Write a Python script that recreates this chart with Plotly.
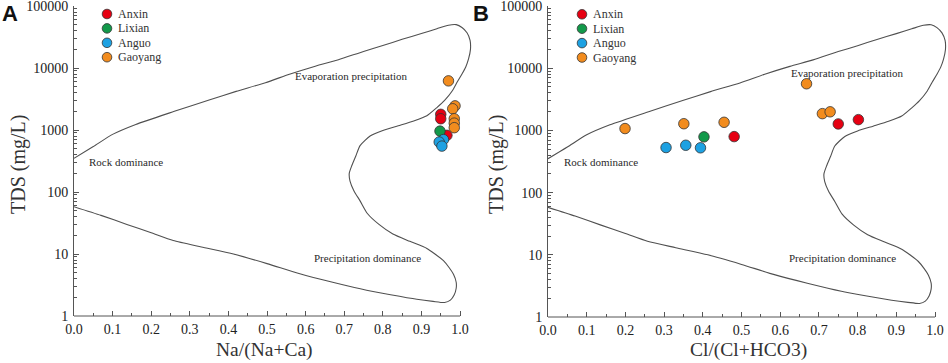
import math
import plotly.graph_objects as go

# ---------------- data ----------------
sites = ["Anxin", "Lixian", "Anguo", "Gaoyang"]
site_colors = ["#E60012", "#12994A", "#1DA1E2", "#F28C1E"]

# Panel A : Na/(Na+Ca) vs TDS
anxin_na = [0.950, 0.950, 0.966]
anxin_tds_a = [1790, 1520, 820]
lixian_na = [0.948]
lixian_tds_a = [960]
anguo_na = [0.957, 0.946, 0.953]
anguo_tds_a = [700, 640, 550]
gaoyang_na = [0.970, 0.987, 0.981, 0.985, 0.985, 0.985]
gaoyang_tds_a = [6200, 2450, 2200, 1520, 1290, 1090]

# Panel B : Cl/(Cl+HCO3) vs TDS
anxin_cl = [0.481, 0.750, 0.802]
anxin_tds_b = [795, 1270, 1490]
lixian_cl = [0.403]
lixian_tds_b = [787]
anguo_cl = [0.305, 0.356, 0.394]
anguo_tds_b = [530, 577, 525]
gaoyang_cl = [0.199, 0.351, 0.455, 0.668, 0.709, 0.729]
gaoyang_tds_b = [1070, 1280, 1350, 5620, 1860, 1990]

# Gibbs boundary envelope (ratio, TDS mg/L)
boundary_ratio = [0.0, 0.07, 0.137, 0.2, 0.257, 0.33, 0.413, 0.5, 0.585, 0.67, 0.758, 0.82,
                  0.888, 0.93, 0.96, 0.975, 0.985, 0.99, 0.99, 0.983, 0.972, 0.957, 0.935,
                  0.914, 0.87, 0.826, 0.79, 0.76, 0.741, 0.725, 0.715, 0.713, 0.72, 0.73,
                  0.741, 0.767, 0.8, 0.84, 0.88, 0.914, 0.94, 0.96, 0.98, 0.993, 1.005,
                  1.015, 1.022, 1.027, 1.026, 1.018, 1.005, 0.99, 0.97, 0.94, 0.9, 0.85,
                  0.8, 0.75, 0.685, 0.625, 0.56, 0.496, 0.42, 0.35, 0.26, 0.16, 0.1, 0.05, 0.0]
boundary_tds = [58, 42, 30, 22, 16.5, 13, 10, 7, 4.8, 3.5, 2.6, 2.2,
                1.86, 1.72, 1.65, 1.8, 2.2, 2.8, 3.5, 4.7, 6.0, 7.8, 10,
                12.3, 16, 21, 30, 45, 72, 105, 150, 200, 270, 380,
                560, 800, 980, 1170, 1400, 1700, 2300, 3000, 4300, 6000, 8000,
                10500, 14000, 20000, 28000, 37000, 45000, 50000, 49000, 43000, 36000, 29000,
                23000, 18500, 13600, 10700, 8000, 5800, 4200, 3050, 2000, 1230, 850, 540, 350]

x_tickvals = [0.0, 0.1, 0.2, 0.3, 0.4, 0.5, 0.6, 0.7, 0.8, 0.9, 1.0]
x_ticktext = ["0.0", "0.1", "0.2", "0.3", "0.4", "0.5", "0.6", "0.7", "0.8", "0.9", "1.0"]
x_minorvals = [0.05, 0.15, 0.25, 0.35, 0.45, 0.55, 0.65, 0.75, 0.85, 0.95]
y_tickvals = [1, 10, 100, 1000, 10000, 100000]
y_ticktext = ["1", "10", "100", "1000", "10000", "100000"]

# ---------------- figure ----------------
W, H = 948, 363
SERIF = "Liberation Serif, Times New Roman, serif"
AXC = "#555555"
MARK = 10.5
fig = go.Figure()

for xa, ya in [("x", "y"), ("x2", "y2")]:
    fig.add_trace(go.Scatter(x=boundary_ratio, y=boundary_tds, mode="lines", xaxis=xa, yaxis=ya,
                             line=dict(color="#505050", width=1.1, shape="spline", smoothing=0.6),
                             showlegend=False, hoverinfo="skip"))

panel_a = [(anxin_na, anxin_tds_a), (lixian_na, lixian_tds_a), (anguo_na, anguo_tds_a), (gaoyang_na, gaoyang_tds_a)]
panel_b = [(anxin_cl, anxin_tds_b), (lixian_cl, lixian_tds_b), (anguo_cl, anguo_tds_b), (gaoyang_cl, gaoyang_tds_b)]

for xa, ya, panel in [("x", "y", panel_a), ("x2", "y2", panel_b)]:
    for name, col, (xs, ys) in zip(sites, site_colors, panel):
        fig.add_trace(go.Scatter(x=xs, y=ys, mode="markers", name=name, xaxis=xa, yaxis=ya,
                                 showlegend=False,
                                 marker=dict(size=MARK, color=col, line=dict(color="#333333", width=0.8))))


def xaxis(domain, anchor):
    return dict(domain=domain, anchor=anchor, range=[0, 1.032], tickmode="array",
                tickvals=x_tickvals, ticktext=x_ticktext,
                ticks="inside", ticklen=5, tickcolor=AXC, tickwidth=1,
                showline=False, showgrid=False, zeroline=False,
                minor=dict(tickmode="array", tickvals=x_minorvals, ticks="inside", ticklen=3,
                           tickcolor=AXC, tickwidth=1, showgrid=False),
                tickfont=dict(family=SERIF, size=14, color="#222222"), ticklabelstandoff=3,
                ticklabeloverflow="allow", automargin=False)


def yaxis(domain, anchor):
    return dict(domain=domain, anchor=anchor, type="log", range=[0, 5], tickmode="array",
                tickvals=y_tickvals, ticktext=y_ticktext,
                ticks="inside", ticklen=5, tickcolor=AXC, tickwidth=1,
                showline=True, linecolor=AXC, linewidth=1, showgrid=False, zeroline=False,
                minor=dict(ticks="inside", ticklen=3, dtick="D1", tickcolor=AXC, tickwidth=1, showgrid=False),
                tickfont=dict(family=SERIF, size=14, color="#222222"), ticklabelstandoff=2,
                ticklabeloverflow="allow", automargin=False)


xa_dom = [74 / W, 472.4 / W]
xb_dom = [548 / W, 947.4 / W]
ya_dom = [(H - 316) / H, (H - 6) / H]
yb_dom = [(H - 317) / H, (H - 6) / H]

fig.update_layout(
    width=W, height=H, margin=dict(l=0, r=0, t=0, b=0),
    paper_bgcolor="white", plot_bgcolor="white", showlegend=False,
    xaxis=xaxis(xa_dom, "y"),
    yaxis=yaxis(ya_dom, "x"),
    xaxis2=xaxis(xb_dom, "y2"),
    yaxis2=yaxis(yb_dom, "x2"),
)

# x-axis baselines stop at 1.0 (envelope extends slightly beyond)
for xr, yr in [("x", "y domain"), ("x2", "y2 domain")]:
    fig.add_shape(type="line", xref=xr, yref=yr, x0=0, x1=1, y0=0, y1=0,
                  line=dict(color=AXC, width=1))

# axis titles
title_font = dict(family=SERIF, size=19.5, color="#333333")
for xc, txt in [(264, "Na/(Na+Ca)"), (748, "Cl/(Cl+HCO3)")]:
    fig.add_annotation(xref="paper", yref="paper", x=xc / W, y=(H - 350) / H, text=txt, showarrow=False,
                       xanchor="center", yanchor="middle", font=title_font)
for xc in [18, 496]:
    fig.add_annotation(xref="paper", yref="paper", x=xc / W, y=(H - 165) / H, text="TDS (mg/L)",
                       showarrow=False, textangle=-90, xanchor="center", yanchor="middle",
                       font=dict(family=SERIF, size=20, color="#333333"))

# site legends (one per panel)
legend_origin = [(107, 14), (582, 14.3)]   # marker centre of first entry, px
legend_step = 14.4
r = 4.8
for lx, ly in legend_origin:
    for i, (name, col) in enumerate(zip(sites, site_colors)):
        cy = ly + i * legend_step
        fig.add_shape(type="circle", xref="paper", yref="paper",
                      x0=(lx - r) / W, x1=(lx + r) / W, y0=(H - cy - r) / H, y1=(H - cy + r) / H,
                      fillcolor=col, line=dict(color="#333333", width=0.8))
        fig.add_annotation(xref="paper", yref="paper", x=(lx + 9) / W, y=(H - cy) / H, text=name,
                           showarrow=False, xanchor="left", yanchor="middle",
                           font=dict(family=SERIF, size=12, color="#333333"))

ann_font = dict(family=SERIF, size=11, color="#2a2a2a")
region_labels = [
    ("x", "y", 0.72, 7400, "Evaporation precipitation"),
    ("x", "y", 0.135, 310, "Rock dominance"),
    ("x", "y", 0.759, 8.7, "Precipitation dominance"),
    ("x2", "y2", 0.773, 8300, "Evaporation precipitation"),
    ("x2", "y2", 0.138, 316, "Rock dominance"),
    ("x2", "y2", 0.76, 9.0, "Precipitation dominance"),
]
for xr, yr, xv, yv, txt in region_labels:
    fig.add_annotation(xref=xr, yref=yr, x=xv, y=math.log10(yv), text=txt, showarrow=False,
                       font=ann_font, xanchor="center", yanchor="middle")

fig.add_annotation(xref="paper", yref="paper", x=10 / W, y=(H - 14) / H, text="<b>A</b>", showarrow=False,
                   font=dict(family="Liberation Sans, Arial, sans-serif", size=22, color="#111111"),
                   xanchor="center", yanchor="middle")
fig.add_annotation(xref="paper", yref="paper", x=481 / W, y=(H - 13) / H, text="<b>B</b>", showarrow=False,
                   font=dict(family="Liberation Sans, Arial, sans-serif", size=22, color="#111111"),
                   xanchor="center", yanchor="middle")

fig.write_html("out.html", config={"displayModeBar": False},
               post_script="document.body.style.margin='0px';document.body.style.overflow='hidden';")
